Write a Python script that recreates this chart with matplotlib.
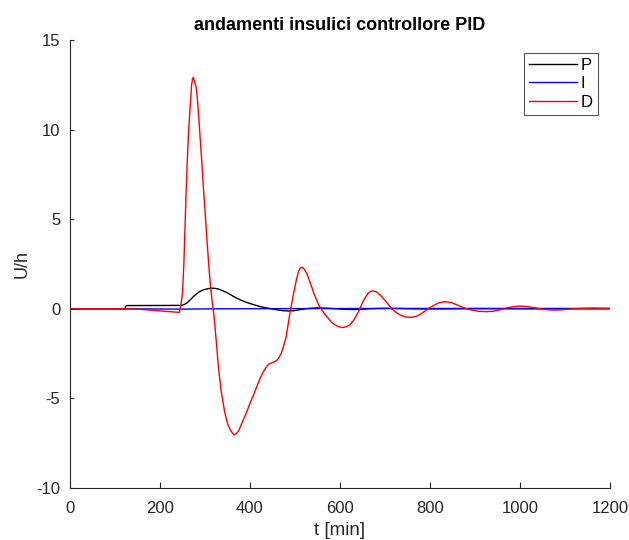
import matplotlib
matplotlib.use("Agg")
import matplotlib.pyplot as plt

plt.rcParams['font.family'] = ['Liberation Sans', 'DejaVu Sans']
plt.rcParams['axes.unicode_minus'] = False

title = "andamenti insulici controllore PID"
xlabel = "t [min]"
ylabel = "U/h"
series_names = ["P", "I", "D"]
xticks = [0, 200, 400, 600, 800, 1000, 1200]
yticks = [-10, -5, 0, 5, 10, 15]

t_P = [0, 122, 124, 127, 248, 255, 260, 267, 275, 282, 289, 296, 303, 310, 315,
       322, 330, 341, 352, 362, 370, 380, 392, 407, 420, 432, 444, 456, 466, 476,
       486, 496, 506, 518, 530, 548, 565, 585, 605, 625, 645, 665, 690, 720, 760,
       800, 850, 900, 1000, 1200]
v_P = [0, 0, 0.15, 0.18, 0.19, 0.25, 0.33, 0.49, 0.70, 0.85, 0.97, 1.05, 1.10, 1.14, 1.15,
       1.14, 1.10, 0.99, 0.86, 0.71, 0.60, 0.48, 0.36, 0.24, 0.14, 0.07, 0.02, -0.04, -0.08, -0.11,
       -0.12, -0.11, -0.07, -0.02, 0.02, 0.05, 0.04, 0.01, -0.02, -0.04, -0.03, 0.0, 0.02, 0.02, 0.0,
       -0.01, 0.0, 0.01, 0.0, 0.0]

t_I = [0, 120, 200, 250, 320, 500, 700, 1200]
v_I = [0, 0, -0.01, -0.02, 0.0, 0.01, 0.02, 0.02]

t_D = [0, 125, 150, 180, 210, 243, 247, 250, 253, 255.5, 258, 260.7, 263.5, 266.7, 270,
       272, 274, 276, 278, 280, 282.5, 285, 288.5, 292.6, 296, 300, 305, 310, 315, 320,
       325, 330, 336, 344, 350, 356, 364, 370, 375, 380, 385, 392, 400, 408, 415,
       422, 430, 436, 441, 450, 459, 465, 470, 475, 480, 484, 488, 492, 496, 500,
       504, 508, 512, 516, 520, 526, 531, 537, 542, 548, 553, 559, 566, 574, 581,
       589, 597, 606, 614, 622, 628, 633, 638, 643, 650, 656, 662, 668, 674, 682,
       692, 703, 715, 722, 732, 745, 759, 772, 784, 796, 806, 818, 833, 848, 862,
       872, 881, 893, 908, 926, 942, 953, 963, 975, 988, 1000, 1015, 1030, 1044, 1056,
       1074, 1090, 1105, 1118, 1135, 1160, 1180, 1200]
v_D = [0, 0, -0.02, -0.08, -0.14, -0.20, 0.3, 0.9, 2.5, 4.6, 6.5, 8.3, 9.9, 11.1, 12.4,
       12.8, 12.92, 12.75, 12.6, 12.4, 11.9, 11.1, 9.8, 8.3, 6.9, 5.5, 3.6, 1.9, 0.6, -0.4,
       -1.8, -3.3, -4.6, -5.8, -6.4, -6.75, -7.04, -6.95, -6.8, -6.5, -6.2, -5.8, -5.27, -4.8, -4.35,
       -3.9, -3.5, -3.25, -3.1, -3.0, -2.9, -2.7, -2.45, -2.05, -1.6, -1.0, -0.35, 0.2, 0.75, 1.23,
       1.72, 2.1, 2.28, 2.32, 2.22, 1.98, 1.65, 1.23, 0.85, 0.49, 0.2, -0.03, -0.3, -0.53, -0.75,
       -0.9, -1.0, -1.05, -1.0, -0.9, -0.72, -0.53, -0.3, -0.07, 0.35, 0.62, 0.85, 0.97, 1.0, 0.93,
       0.7, 0.38, 0.0, -0.15, -0.32, -0.45, -0.48, -0.4, -0.22, 0.0, 0.15, 0.32, 0.40, 0.34, 0.2,
       0.09, 0.0, -0.07, -0.14, -0.16, -0.13, -0.07, 0.0, 0.07, 0.13, 0.15, 0.13, 0.07, 0.0, -0.04,
       -0.07, -0.06, -0.03, 0.0, 0.02, 0.04, 0.03, 0.02]

fig = plt.figure(figsize=(6.29, 5.40), dpi=100)
ax = fig.add_axes([70/629, 1-488/540, 540/629, 448/540])

ax.plot(t_P, v_P, color='black', lw=1.0, label=series_names[0])
ax.plot(t_I, v_I, color='#0000ff', lw=1.0, label=series_names[1])
ax.plot(t_D, v_D, color='#ff0000', lw=1.0, label=series_names[2])

ax.set_xlim(0, 1200)
ax.set_ylim(-10, 15)
ax.set_xticks(xticks)
ax.set_yticks(yticks)
ax.spines['top'].set_visible(False)
ax.spines['right'].set_visible(False)
axcol = '#262626'
for s in ['left', 'bottom']:
    ax.spines[s].set_color(axcol)
    ax.spines[s].set_linewidth(0.8)
ax.tick_params(axis='x', direction='in', length=4, width=0.8, color=axcol,
               labelcolor=axcol, labelsize=12, pad=9.5)
ax.tick_params(axis='y', direction='in', length=3.1, width=0.8, color=axcol,
               labelcolor=axcol, labelsize=12, pad=7)

ax.set_title(title, fontsize=13, fontweight='bold', pad=7)
ax.set_xlabel(xlabel, fontsize=13.5, labelpad=4, color=axcol)
ax.set_ylabel(ylabel, fontsize=13, labelpad=4, color=axcol)

leg = ax.legend(loc='upper right', bbox_to_anchor=((598-70)/540, (488-53)/448),
                borderaxespad=0, fancybox=False, framealpha=1, edgecolor='#555555',
                fontsize=12, handlelength=2.9, handletextpad=0.25, labelspacing=0.2,
                borderpad=0.3)
leg.get_frame().set_linewidth(0.8)

fig.savefig('out.png', dpi=100)
